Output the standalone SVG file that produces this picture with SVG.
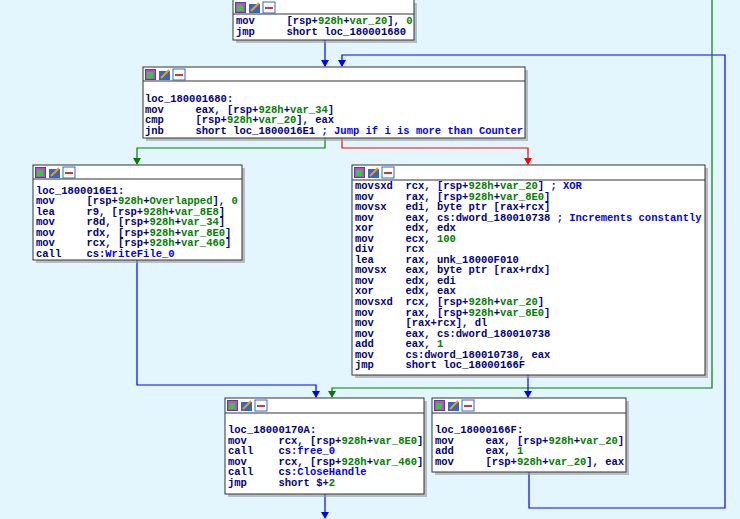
<svg xmlns="http://www.w3.org/2000/svg" width="740" height="519" viewBox="0 0 740 519">
<style>
.n{fill:#fff;stroke:#333;stroke-width:1}
.sh{fill:#999;opacity:.6}
.hd{fill:none;stroke:#333;stroke-width:1}
text{font-family:"Liberation Mono","DejaVu Sans Mono",monospace;font-size:10.5px;fill:#000080;font-weight:bold;white-space:pre}
.g{fill:#008000}.b{fill:#0000ff}
.e{fill:none;stroke-width:1.2}
</style>
<defs>
<g id="ic">
<rect x="0" y="0" width="11" height="11" fill="#44a"/><rect x="1" y="1" width="9" height="9" fill="#c4c"/><rect x="2" y="3" width="6" height="6" fill="#3c3"/>
<rect x="14" y="2" width="11" height="9" fill="#36c"/><path d="M16 9 L24 1" stroke="#f90" stroke-width="2"/>
<rect x="28" y="0" width="12" height="11" fill="#fff" stroke="#36c"/><rect x="30" y="5" width="8" height="2" fill="#d33"/>
</g>
</defs>
<rect width="740" height="519" fill="#e4f6fd"/>
<g id="connectors">
<path class="e" stroke="#0000ff" d="M325 40 V66"/>
<path class="e" stroke="#0000ff" stroke-width="2" d="M529 472 V508 H725 V55 H342 V66"/>
<path class="e" stroke="#008000" d="M325 138 V148 H137 V164"/>
<path class="e" stroke="#ff0000" d="M342 138 V148 H528 V164"/>
<path class="e" stroke="#0000ff" d="M137 260 V385 H316 V397"/>
<path class="e" stroke="#008000" d="M712 0 V388 H332 V397"/>
<path class="e" stroke="#0000ff" d="M528 375 V397"/>
<path class="e" stroke="#0000ff" d="M325 494 V517"/>
<path fill="#0000ff" d="M321 60 h8 l-4 7z M338 60 h8 l-4 7z M312 391 h8 l-4 7z M524 391 h8 l-4 7z M321 512 h8 l-4 7z"/>
<path fill="#008000" d="M133 158 h8 l-4 7z M328 391 h8 l-4 7z"/>
<path fill="#ff0000" d="M524 158 h8 l-4 7z"/>
</g>
<g id="nA">
<rect class="sh" x="236" y="3" width="181" height="40"/><rect class="n" x="233" y="-1" width="181" height="41"/>
<line class="hd" x1="233" y1="14" x2="414" y2="14"/><use href="#ic" x="235" y="2"/>
<text x="236" y="24">mov     [rsp+<tspan class="g">928h</tspan>+<tspan class="g">var_20</tspan>], <tspan class="g">0</tspan></text>
<text x="236" y="35">jmp     short loc_180001680</text>
</g>
<g id="nB">
<rect class="sh" x="146" y="70" width="382" height="71"/><rect class="n" x="143" y="67" width="382" height="71"/>
<line class="hd" x1="143" y1="81" x2="525" y2="81"/><use href="#ic" x="145" y="69"/>
<text x="145" y="102">loc_180001680:</text>
<text x="145" y="113">mov     eax, [rsp+<tspan class="g">928h</tspan>+<tspan class="g">var_34</tspan>]</text>
<text x="145" y="123">cmp     [rsp+<tspan class="g">928h</tspan>+<tspan class="g">var_20</tspan>], eax</text>
<text x="145" y="134">jnb     short loc_1800016E1 <tspan class="b">; Jump if i is more than Counter</tspan></text>
</g>
<g id="nC">
<rect class="sh" x="36" y="168" width="209" height="95"/><rect class="n" x="33" y="165" width="209" height="95"/>
<line class="hd" x1="33" y1="179" x2="242" y2="179"/><use href="#ic" x="35" y="167"/>
<text x="36" y="194">loc_1800016E1:</text>
<text x="36" y="204">mov     [rsp+<tspan class="g">928h</tspan>+<tspan class="g">Overlapped</tspan>], <tspan class="g">0</tspan></text>
<text x="36" y="215">lea     r9, [rsp+<tspan class="g">928h</tspan>+<tspan class="g">var_8E8</tspan>]</text>
<text x="36" y="225">mov     r8d, [rsp+<tspan class="g">928h</tspan>+<tspan class="g">var_34</tspan>]</text>
<text x="36" y="236">mov     rdx, [rsp+<tspan class="g">928h</tspan>+<tspan class="g">var_8E0</tspan>]</text>
<text x="36" y="246">mov     rcx, [rsp+<tspan class="g">928h</tspan>+<tspan class="g">var_460</tspan>]</text>
<text x="36" y="257">call    cs:<tspan class="b">WriteFile_0</tspan></text>
</g>
<g id="nD">
<rect class="sh" x="355" y="168" width="353" height="210"/><rect class="n" x="352" y="165" width="353" height="210"/>
<line class="hd" x1="352" y1="180" x2="705" y2="180"/><use href="#ic" x="354" y="167"/>
<text x="355" y="189">movsxd  rcx, [rsp+<tspan class="g">928h</tspan>+<tspan class="g">var_20</tspan>] <tspan class="b">; XOR</tspan></text>
<text x="355" y="200">mov     rax, [rsp+<tspan class="g">928h</tspan>+<tspan class="g">var_8E0</tspan>]</text>
<text x="355" y="210">movsx   edi, byte ptr [rax+rcx]</text>
<text x="355" y="221">mov     eax, cs:dword_180010738 <tspan class="b">; Increments constantly</tspan></text>
<text x="355" y="231">xor     edx, edx</text>
<text x="355" y="242">mov     ecx, <tspan class="g">100</tspan></text>
<text x="355" y="252">div     rcx</text>
<text x="355" y="263">lea     rax, unk_18000F010</text>
<text x="355" y="273">movsx   eax, byte ptr [rax+rdx]</text>
<text x="355" y="284">mov     edx, edi</text>
<text x="355" y="294">xor     edx, eax</text>
<text x="355" y="305">movsxd  rcx, [rsp+<tspan class="g">928h</tspan>+<tspan class="g">var_20</tspan>]</text>
<text x="355" y="316">mov     rax, [rsp+<tspan class="g">928h</tspan>+<tspan class="g">var_8E0</tspan>]</text>
<text x="355" y="326">mov     [rax+rcx], dl</text>
<text x="355" y="337">mov     eax, cs:dword_180010738</text>
<text x="355" y="347">add     eax, <tspan class="g">1</tspan></text>
<text x="355" y="358">mov     cs:dword_180010738, eax</text>
<text x="355" y="368">jmp     short loc_18000166F</text>
</g>
<g id="nE">
<rect class="sh" x="228" y="401" width="199" height="96"/><rect class="n" x="225" y="398" width="199" height="96"/>
<line class="hd" x1="225" y1="413" x2="424" y2="413"/><use href="#ic" x="227" y="400"/>
<text x="228" y="433">loc_18000170A:</text>
<text x="228" y="444">mov     rcx, [rsp+<tspan class="g">928h</tspan>+<tspan class="g">var_8E0</tspan>]</text>
<text x="228" y="454">call    cs:<tspan class="b">free_0</tspan></text>
<text x="228" y="465">mov     rcx, [rsp+<tspan class="g">928h</tspan>+<tspan class="g">var_460</tspan>]</text>
<text x="228" y="475">call    cs:<tspan class="b">CloseHandle</tspan></text>
<text x="228" y="486">jmp     short $+<tspan class="g">2</tspan></text>
</g>
<g id="nF">
<rect class="sh" x="435" y="401" width="194" height="74"/><rect class="n" x="432" y="398" width="194" height="74"/>
<line class="hd" x1="432" y1="413" x2="626" y2="413"/><use href="#ic" x="434" y="400"/>
<text x="435" y="433">loc_18000166F:</text>
<text x="435" y="444">mov     eax, [rsp+<tspan class="g">928h</tspan>+<tspan class="g">var_20</tspan>]</text>
<text x="435" y="454">add     eax, <tspan class="g">1</tspan></text>
<text x="435" y="465">mov     [rsp+<tspan class="g">928h</tspan>+<tspan class="g">var_20</tspan>], eax</text>
</g>
</svg>
